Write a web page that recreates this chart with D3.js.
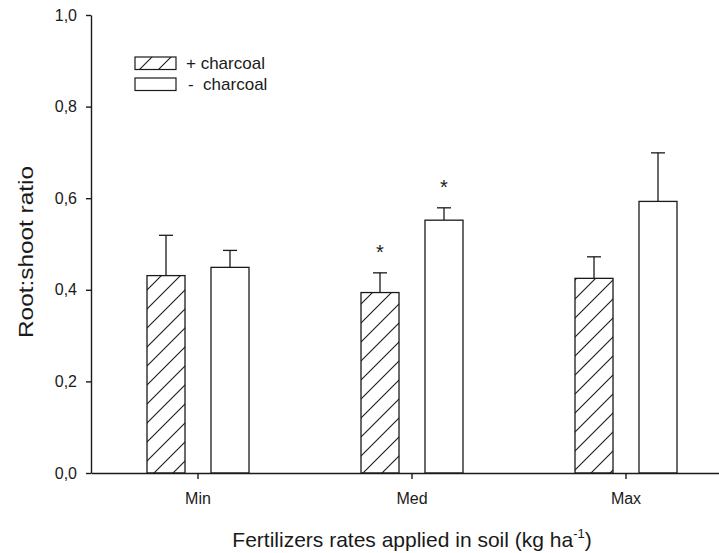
<!DOCTYPE html>
<html>
<head>
<meta charset="utf-8">
<script src="https://cdn.jsdelivr.net/npm/d3@7/dist/d3.min.js"></script>
<style>
  html, body { margin: 0; padding: 0; background: #fff; }
  svg { display: block; font-family: "Liberation Sans", Arial, sans-serif; }
</style>
</head>
<body>
<svg id="chart" width="719" height="553"></svg>
<script>
// ---- data ----
const categories = ["Min", "Med", "Max"];
const seriesNames = ["+ charcoal", "-  charcoal"];
const plusCharcoal = [0.431, 0.394, 0.425];
const plusCharcoalErr = [0.088, 0.043, 0.047];
const minusCharcoal = [0.449, 0.552, 0.593];
const minusCharcoalErr = [0.037, 0.027, 0.106];
const plusSignif = [false, true, false];
const minusSignif = [false, true, false];
const yTickValues = [0.0, 0.2, 0.4, 0.6, 0.8, 1.0];
const xTitle = "Fertilizers rates applied in soil (kg ha";
const yTitle = "Root:shoot ratio";

const ink = "#1a1a1a";
const svg = d3.select("#chart");

// hatch pattern
const defs = svg.append("defs");
const pat = defs.append("pattern")
  .attr("id", "hatch").attr("patternUnits", "userSpaceOnUse")
  .attr("width", 19).attr("height", 19);
pat.append("rect").attr("width", 19).attr("height", 19).attr("fill", "#fff");
pat.append("path")
  .attr("d", "M0,19 L19,0 M-4,4 L4,-4 M15,23 L23,15")
  .attr("stroke", ink).attr("stroke-width", 1.1).attr("fill", "none");

// scales
const x0 = d3.scaleBand().domain(categories).range([91, 733]).padding(0);
const x1 = d3.scaleBand().domain([0, 1]).range([-51, 51]).paddingInner(0.406);
const y = d3.scaleLinear().domain([0, 1]).range([473, 15]);

const rows = categories.map((c, i) => ([
  { cat: c, s: 0, v: plusCharcoal[i], e: plusCharcoalErr[i], sig: plusSignif[i] },
  { cat: c, s: 1, v: minusCharcoal[i], e: minusCharcoalErr[i], sig: minusSignif[i] }
])).flat();

const cx = d => x0(d.cat) + x0.bandwidth() / 2 + x1(d.s);
const bw = x1.bandwidth();

// error bars (upward only)
const eb = svg.append("g").attr("stroke", ink).attr("stroke-width", 1.3);
eb.selectAll("line.v").data(rows).join("line")
  .attr("x1", d => cx(d) + bw / 2).attr("x2", d => cx(d) + bw / 2)
  .attr("y1", d => y(d.v)).attr("y2", d => y(d.v + d.e));
eb.selectAll("line.c").data(rows).join("line")
  .attr("x1", d => cx(d) + bw / 2 - 7).attr("x2", d => cx(d) + bw / 2 + 7)
  .attr("y1", d => y(d.v + d.e)).attr("y2", d => y(d.v + d.e));

// bars
svg.append("g").selectAll("rect").data(rows).join("rect")
  .attr("x", d => cx(d)).attr("width", bw)
  .attr("y", d => y(d.v)).attr("height", d => y(0) - y(d.v))
  .attr("fill", d => d.s === 0 ? "url(#hatch)" : "#fff")
  .attr("stroke", ink).attr("stroke-width", 1.3);

// significance stars
svg.append("g").selectAll("text").data(rows.filter(d => d.sig)).join("text")
  .attr("x", d => cx(d) + bw / 2).attr("y", d => y(d.v + d.e) - 14)
  .attr("text-anchor", "middle").attr("font-size", 20).attr("fill", ink)
  .text("*");

// axes
const fmt = v => d3.format(".1f")(v).replace(".", ",");
const yAxis = svg.append("g").attr("transform", "translate(91,0)")
  .call(d3.axisLeft(y).tickValues(yTickValues).tickFormat(fmt).tickSize(5).tickSizeOuter(0).tickPadding(9));
const xAxis = svg.append("g").attr("transform", "translate(0,473)")
  .call(d3.axisBottom(x0).tickSize(6).tickSizeOuter(0).tickPadding(14));
[yAxis, xAxis].forEach(g => {
  g.selectAll("path,line").attr("stroke", ink).attr("stroke-width", 1.4);
  g.selectAll("text").attr("font-size", 16).attr("fill", ink)
    .attr("font-family", "'Liberation Sans', Arial, sans-serif");
});

// axis titles
const xt = svg.append("text").attr("x", 412).attr("y", 547)
  .attr("text-anchor", "middle").attr("font-size", 21).attr("fill", ink);
xt.append("tspan").text(xTitle);
xt.append("tspan").attr("dy", -9).attr("font-size", 13).text("-1");
xt.append("tspan").attr("dy", 9).text(")");

svg.append("text").attr("transform", "translate(33,252) rotate(-90)")
  .attr("text-anchor", "middle").attr("font-size", 21).attr("fill", ink)
  .attr("textLength", 172).attr("lengthAdjust", "spacingAndGlyphs")
  .text(yTitle);

// legend
const leg = svg.append("g");
const legY = [57, 78];
seriesNames.forEach((n, i) => {
  leg.append("rect").attr("x", 135).attr("y", legY[i]).attr("width", 41).attr("height", 12.5)
    .attr("fill", i === 0 ? "url(#hatch)" : "#fff").attr("stroke", ink).attr("stroke-width", 1.2);
});
leg.append("text").attr("x", 186).attr("y", 68.5).attr("font-size", 17).attr("fill", ink).text(seriesNames[0]);
leg.append("text").attr("x", 188).attr("y", 90).attr("font-size", 17).attr("fill", ink)
  .style("white-space", "pre").text(seriesNames[1]);
</script>
</body>
</html>
